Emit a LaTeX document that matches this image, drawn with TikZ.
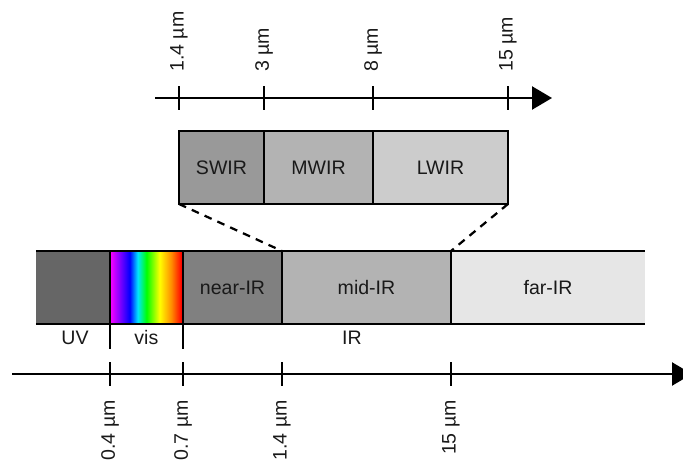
\documentclass[tikz,border=0pt]{standalone}
\usepackage{fontspec}
\setmainfont{Liberation Sans}
\usetikzlibrary{arrows.meta, positioning, calc}

\definecolor{uvgray}{HTML}{666666}
\definecolor{neargray}{HTML}{808080}
\definecolor{midgray}{HTML}{B3B3B3}
\definecolor{fargray}{HTML}{E6E6E6}
\definecolor{swirgray}{HTML}{999999}
\definecolor{mwirgray}{HTML}{B3B3B3}
\definecolor{lwirgray}{HTML}{CCCCCC}

\pgfdeclarehorizontalshading{visrainbow}{100bp}{rgb(0bp)=(1,0,1); rgb(25bp)=(1,0,1);
  rgb(32.5bp)=(0.45,0,1); rgb(38.5bp)=(0,0,1); rgb(44bp)=(0,0.9,1); rgb(50bp)=(0,1,0);
  rgb(59bp)=(1,1,0); rgb(67bp)=(1,0.55,0); rgb(74bp)=(1,0,0); rgb(100bp)=(1,0,0)}

\begin{document}
\begin{tikzpicture}[
  font=\fontsize{13.9}{16}\selectfont,
  band/.style={minimum height=1.825cm, inner sep=0pt, outer sep=0pt, text=black!90},
  subband/.style={band, draw, line width=1.6pt},
  axisline/.style={line width=1.7pt, -{Triangle[length=0.5cm, width=0.575cm]}},
  tickline/.style={line width=1.6pt},
  ticklabel/.style={rotate=90, inner sep=0pt, text=black!90},
  zoomline/.style={line width=1.6pt, dash pattern=on 5.5pt off 4.5pt}
]
  \useasboundingbox (0,0) rectangle (17.075,11.475);

  % Full spectrum
  \node[band, fill=uvgray, minimum width=1.85cm, anchor=north west] (uv) at (0.9,5.2) {};
  \node[band, shading=visrainbow, minimum width=1.825cm, right=0pt of uv] (vis) {};
  \node[band, fill=neargray, minimum width=2.475cm, right=0pt of vis] (near) {near-IR};
  \node[band, fill=midgray, minimum width=4.225cm, right=0pt of near] (mid) {mid-IR};
  \node[band, fill=fargray, minimum width=4.85cm, right=0pt of mid] (far) {far-IR};

  \draw[tickline] (uv.north west) -- (far.north east) (uv.south west) -- (far.south east);
  \foreach \n in {uv, vis, near, mid}
    \draw[tickline] (\n.north east) -- (\n.south east);
  \foreach \n in {uv, vis}
    \draw[tickline] (\n.south east) -- ++(0,-0.625);

  \node[text=black!90] (uvlabel) at (1.875,3.025) {UV};
  \node[text=black!90] (vislabel) at (3.66,3.025) {vis};
  \node[text=black!90] (irlabel) at (8.8,3.025) {IR};

  % Bottom axis
  \coordinate (axL) at (0.3,2.125);
  \coordinate (axR) at (17.3,2.125);
  \draw[axisline] (axL) -- (axR);
  \foreach \n/\t in {uv/0.4, vis/0.7, near/1.4, mid/15} {
    \draw[tickline] ($(\n.east |- axL)+(0,0.3)$) -- ($(\n.east |- axL)+(0,-0.3)$);
    \node[ticklabel, anchor=east] at ($(\n.east |- axL)+(0,-0.65)$) {\t~µm};
  }

  % Infrared sub-bands
  \node[subband, fill=swirgray, minimum width=2.125cm, anchor=north west] (swir) at (4.475,8.2) {SWIR};
  \node[subband, fill=mwirgray, minimum width=2.725cm, right=0pt of swir] (mwir) {MWIR};
  \node[subband, fill=lwirgray, minimum width=3.375cm, right=0pt of mwir] (lwir) {LWIR};

  \draw[zoomline] (swir.south west) -- (near.north east);
  \draw[zoomline] (lwir.south east) -- (mid.north east);

  % Top axis
  \coordinate (taL) at (3.875,9.025);
  \coordinate (taR) at (13.8,9.025);
  \draw[axisline] (taL) -- (taR);
  \foreach \p/\t in {swir.west/1.4, swir.east/3, mwir.east/8, lwir.east/15} {
    \draw[tickline] ($(\p |- taL)+(0,0.3)$) -- ($(\p |- taL)+(0,-0.3)$);
    \node[ticklabel, anchor=west] at ($(\p |- taL)+(0,0.65)$) {\t~µm};
  }
\end{tikzpicture}
\end{document}
